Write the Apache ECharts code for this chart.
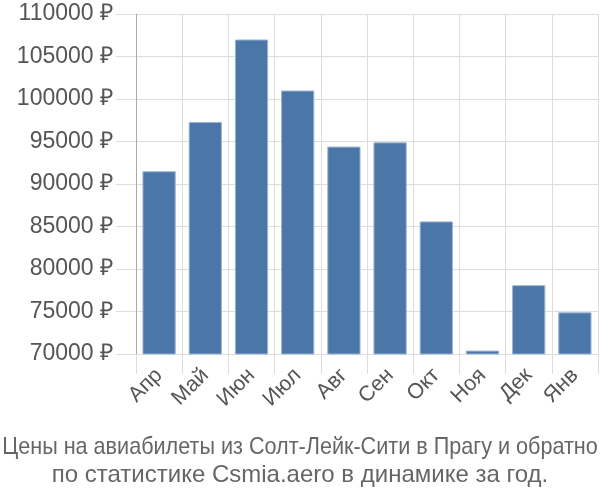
<!DOCTYPE html>
<html><head><meta charset="utf-8">
<script src="https://cdn.jsdelivr.net/npm/echarts@6/dist/echarts.min.js"></script>
<style>html,body{margin:0;padding:0;background:#fff}#c{width:600px;height:500px}</style>
</head><body><div id="c"></div>
<script>
var categories = ["Апр","Май","Июн","Июл","Авг","Сен","Окт","Ноя","Дек","Янв"];
var prices = [91500, 97300, 107000, 101000, 94400, 94900, 85600, 70400, 78100, 74900];
var yMin = 70000, yMax = 110000, yStep = 5000;
var titleLines = ["Цены на авиабилеты из Солт-Лейк-Сити в Прагу и обратно", "по статистике Csmia.aero в динамике за год."];

var chart = echarts.init(document.getElementById('c'), null, {renderer:'canvas'});
var titleFont = {fontFamily:'Liberation Sans, sans-serif', fontSize:24, fill:'#666', textAlign:'center', textVerticalAlign:'middle'};
chart.setOption({
  animation:false,
  graphic:[
    {type:'text', x:300, y:447.5, scaleX:0.9, originX:0, style:Object.assign({text:titleLines[0]}, titleFont)},
    {type:'text', x:300, y:475, style:Object.assign({text:titleLines[1]}, titleFont)}
  ],
  grid:{left:136, right:2, top:14, bottom:146},
  xAxis:{
    type:'category', data:categories,
    axisLine:{show:true, lineStyle:{color:'#ddd'}},
    axisTick:{show:true, length:20, lineStyle:{color:'#ddd'}},
    splitLine:{show:true, lineStyle:{color:'#ddd'}},
    axisLabel:{rotate:45, fontSize:21.5, color:'#555', fontFamily:'Liberation Sans, sans-serif', margin:18}
  },
  yAxis:{
    type:'value', min:yMin, max:yMax, interval:yStep,
    axisLine:{show:true, onZero:false, lineStyle:{color:'#aaa'}},
    axisTick:{show:true, length:20, lineStyle:{color:'#ddd'}},
    splitLine:{show:true, lineStyle:{color:'#ddd'}},
    axisLabel:{fontSize:23, color:'#555', fontFamily:'Liberation Sans, sans-serif', margin:23,
      formatter:function(v){return v+' ₽';}}
  },
  series:[{
    type:'bar', data:prices, barWidth:'72%',
    itemStyle:{color:'#4a76a8', borderColor:'#9fb6d0', borderWidth:1}
  }]
});
</script></body></html>
